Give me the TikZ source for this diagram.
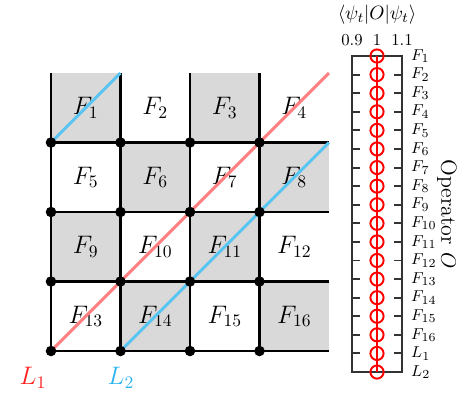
\documentclass[tikz,border=0pt]{standalone}
\usepackage{amsmath}
\usepackage{tikz}
\usetikzlibrary{positioning, calc}
\definecolor{loopred}{HTML}{FF7F7F}
\definecolor{loopblue}{HTML}{5BC5F2}
\definecolor{labblue}{HTML}{2CB4F0}
\definecolor{labred}{HTML}{FF2020}

\begin{document}
\begin{tikzpicture}[x=0.02cm, y=-0.02cm,
    tile/.style={fill=gray!30},
    bond/.style={line width=1.2pt, black},
    site/.style={circle, fill=black, inner sep=0pt, minimum size=6pt},
    loopA/.style={line width=1.7pt, loopred},
    loopB/.style={line width=1.7pt, loopblue},
    lab/.style={font=\fontsize{14}{16}\selectfont},
    tk/.style={font=\fontsize{9.5}{11}\selectfont},
    frame/.style={line width=1.1pt, black!80},
    mk/.style={circle, draw=red, line width=1.1pt, minimum size=7.5pt, inner sep=0pt}]
\useasboundingbox (0,0) rectangle (457,410);
\def\cs{69.5}
% tiles and face labels
\foreach \i in {0,...,3}
  \foreach \j in {0,...,3} {
    \pgfmathtruncatemacro{\k}{4*\j+\i+1}
    \pgfmathtruncatemacro{\pty}{mod(\i+\j,2)}
    \ifnum\pty=0 \fill[tile] (51+\cs*\i,73+\cs*\j) rectangle ++(\cs,\cs); \fi
    \node[lab] (f\k) at (51+\cs*\i+\cs/2, 73+\cs*\j+\cs/2) {$F_{\k}$};
  }
% lattice
\foreach \j in {1,...,4}
  \draw[bond] (51,73+\cs*\j) -- ++(4*\cs,0);
\foreach \i in {0,...,3}
  \draw[bond] (51+\cs*\i,73) -- ++(0,4*\cs);
\foreach \i in {0,...,3}
  \foreach \j in {1,...,4}
    \coordinate (v-\i-\j) at (51+\cs*\i,73+\cs*\j);
\coordinate (c-top) at (51+4*\cs,73);
\coordinate (c-right) at (51+4*\cs,73+\cs);
\coordinate (c-up) at (51+\cs,73);
% loops
\draw[loopA] (v-0-4) -- (c-top);
\draw[loopB] (v-1-4) -- (c-right);
\draw[loopB] (v-0-1) -- (c-up);
\foreach \i in {0,...,3}
  \foreach \j in {1,...,4}
    \node[site] (s-\i-\j) at (v-\i-\j) {};
\node[lab, labred] (l1) at (33,378) {$L_1$};
\node[lab, labblue] (l2) at (121,378) {$L_2$};
% expectation values
\def\yt{18.59}
\node[font=\fontsize{11}{13}\selectfont] (title) at (377,15) {$\langle\psi_t|O|\psi_t\rangle$};
\node[tk] (x1) at (352,40) {0.9};
\node[tk] (x2) at (377,40) {1};
\node[tk] (x3) at (402,40) {1.1};
\draw[frame] (352,56) rectangle (402,372);
\foreach \n [count=\k] in {F_{1},F_{2},F_{3},F_{4},F_{5},F_{6},F_{7},F_{8},F_{9},
    F_{10},F_{11},F_{12},F_{13},F_{14},F_{15},F_{16},L_{1},L_{2}} {
  \coordinate (p\k) at (377,56+\yt*\k-\yt);
  \node[tk, anchor=west] (t\k) at (405,56+\yt*\k-\yt) {$\n$};
  \ifnum\k>1 \ifnum\k<18
    \draw[frame] (352,56+\yt*\k-\yt) -- ++(8,0);
    \draw[frame] (402,56+\yt*\k-\yt) -- ++(-8,0);
  \fi\fi
}
\draw[red, line width=1.1pt] (p1) -- (p18);
\foreach \k in {1,...,18}
  \node[mk] (m\k) at (p\k) {};
\node[rotate=-90, font=\fontsize{12.5}{14}\selectfont] (olab) at (447,214) {Operator $O$};
\end{tikzpicture}
\end{document}
